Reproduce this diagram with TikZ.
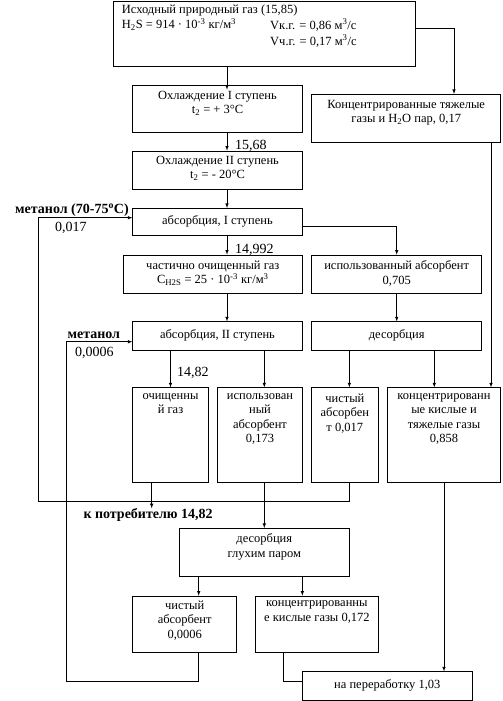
\documentclass[tikz,border=0pt]{standalone}
\usepackage{fontspec}
\setmainfont{Liberation Serif}
\usepackage{tikz}
\usetikzlibrary{fit}
\usetikzlibrary{positioning}

\begin{document}
\begin{tikzpicture}
[
	x								= 1pt,
	y								= -1pt,
	%
	blok/.style						=
	{
		draw,
		inner sep					= 0pt,
		line width					= 0.6pt
	},
	tekst/.style					=
	{
		inner sep					= 0pt,
		align						= center,
		font						= \fontsize{12.5}{14.5}\selectfont,
		execute at begin node		= \strut
	},
	metka/.style					=
	{
		inner sep					= 0pt,
		anchor						= base west,
		font						= \fontsize{14}{16}\selectfont
	},
	strelka/.style					= {-latex, line width = 0.6pt},
	liniya/.style					= {line width = 0.6pt},
]
	\useasboundingbox (0,0) rectangle (503,701);

	% boxes
	\node (ishod)	[blok, fit = {(113.3,1) (415.7,66)}] {};
	\node (ohl1)	[blok, fit = {(132.7,85.3) (302.3,132.3)}] {};
	\node (konc1)	[blok, fit = {(311.7,94.3) (500.7,142)}] {};
	\node (ohl2)	[blok, fit = {(132.7,151) (302.3,189)}] {};
	\node (abs1)	[blok, fit = {(132.7,208.3) (302.3,235.7)}] {};
	\node (chast)	[blok, fit = {(123.3,255) (302.3,293.3)}] {};
	\node (isp1)	[blok, fit = {(311.7,255) (481.7,293.3)}] {};
	\node (abs2)	[blok, fit = {(132.7,321.7) (302.3,350)}] {};
	\node (desorb1)	[blok, fit = {(311.7,321.7) (481.7,350)}] {};
	\node (ochgaz)	[blok, fit = {(132.7,387.7) (208.3,482.3)}] {};
	\node (isp2)	[blok, fit = {(217.7,387.7) (302.3,482.3)}] {};
	\node (chist1)	[blok, fit = {(311.7,387.7) (378,482.3)}] {};
	\node (konc2)	[blok, fit = {(387.3,387.7) (500.7,482.3)}] {};
	\node (desorb2)	[blok, fit = {(179.3,528.3) (349.3,576.7)}] {};
	\node (chist2)	[blok, fit = {(132.7,596) (236.7,652.3)}] {};
	\node (konc3)	[blok, fit = {(255.7,596) (378,652.3)}] {};
	\node (pererab)	[blok, fit = {(302.3,671.7) (472.3,700)}] {};

	% texts in boxes
	\node (ishod-t)	[tekst, align = left, below right = 4.3pt and 8.7pt of ishod.north west]
		{Исходный природный газ (15,85)\\H\textsubscript{2}S = 914 · 10\textsuperscript{-3} кг/м\textsuperscript{3}};
	\node (ishod-v)	[tekst, align = left, below right = 18pt and 157pt of ishod.north west]
		{Vк.г. = 0,86 м\textsuperscript{3}/с\\[1.5pt]Vч.г. = 0,17 м\textsuperscript{3}/с};
	\node (ohl1-t)		[tekst, below = 6pt of ohl1.north] {Охлаждение I ступень\\t\textsubscript{2} = + 3°C};
	\node (konc1-t)		[tekst, below = 6pt of konc1.north] {Концентрированные тяжелые\\газы и H\textsubscript{2}O пар, 0,17};
	\node (ohl2-t)		[tekst, below = 5pt of ohl2.north] {Охлаждение II ступень\\t\textsubscript{2} = - 20°C};
	\node (abs1-t)		[tekst] at (abs1.center) {абсорбция, I ступень};
	\node (chast-t)		[tekst, below = 6pt of chast.north] {частично очищенный газ\\C\textsubscript{H2S} = 25 · 10\textsuperscript{-3} кг/м\textsuperscript{3}};
	\node (isp1-t)		[tekst, below = 6pt of isp1.north] {использованный абсорбент\\0,705};
	\node (abs2-t)		[tekst] at (abs2.center) {абсорбция, II ступень};
	\node (desorb1-t)	[tekst] at (desorb1.center) {десорбция};
	\node (ochgaz-t)	[tekst, below = 6pt of ochgaz.north] {очищенны\\й газ};
	\node (isp2-t)		[tekst, below = 6pt of isp2.north] {использован\\ный\\абсорбент\\0,173};
	\node (chist1-t)	[tekst, below = 6pt of chist1.north] {чистый\\абсорбен\\т 0,017};
	\node (konc2-t)		[tekst, below = 6pt of konc2.north] {концентрированн\\ые кислые и\\тяжелые газы\\0,858};
	\node (desorb2-t)	[tekst, below = 5.7pt of desorb2.north] {десорбция\\глухим паром};
	\node (chist2-t)	[tekst, below = 5pt of chist2.north] {чистый\\абсорбент\\0,0006};
	\node (konc3-t)		[tekst, below = 5pt of konc3.north] {концентрированны\\е кислые газы 0,172};
	\node (pererab-t)	[tekst] at (pererab.center) {на переработку 1,03};

	% flow labels
	\node (metanol1)	[metka, font = \fontsize{14}{16}\bfseries] at (15,213.5) {метанол (70-75\textsuperscript{o}C)};
	\node (rashod1)		[metka] at (55,231) {0,017};
	\node (metanol2)	[metka, font = \fontsize{14}{16}\bfseries] at (67.3,338.3) {метанол};
	\node (rashod2)		[metka] at (75,356.5) {0,0006};
	\node (r1568)		[metka] at (235,149.5) {15,68};
	\node (r14992)		[metka] at (235,253.5) {14,992};
	\node (r1482)		[metka] at (177,376.5) {14,82};
	\node (potr)		[metka, font = \fontsize{14}{16}\bfseries] at (83.3,518.5) {к потребителю 14,82};

	\coordinate (povorot1) at (38.3,501);
	\coordinate (povorot2) at (66.7,681);

	% main line
	\draw [strelka] ([xshift=9.5pt]ohl1.north |- ishod.south) -- ([xshift=9.5pt, yshift=-4.7pt]ohl1.north);
	\draw [strelka] ([xshift=9.5pt]ohl1.south) -- ([xshift=9.5pt]ohl2.north);
	\draw [strelka] ([xshift=9.5pt]ohl2.south) -- ([xshift=9.5pt]abs1.north);
	\draw [strelka] ([xshift=9.5pt]abs1.south) -- ([xshift=9.5pt]abs1.south |- chast.north);
	\draw [strelka] ([xshift=9.5pt]abs2.north |- chast.south) -- ([xshift=9.5pt]abs2.north);
	\draw [strelka] ([yshift=5.2pt]ishod.east) -| ([xshift=47.8pt]konc1.north);
	\draw [strelka] ([yshift=-4.7pt]abs1.east) -| (isp1.north);
	\draw [strelka] (isp1.south) -- (desorb1.north);

	% lower part
	\draw [strelka] (ochgaz.north |- abs2.south) -- (ochgaz.north);
	\draw [strelka] ([xshift=4.3pt]isp2.north |- abs2.south) -- ([xshift=4.3pt]isp2.north);
	\draw [strelka] ([xshift=4.5pt]chist1.north |- desorb1.south) -- ([xshift=4.5pt]chist1.north);
	\draw [strelka] ([xshift=-9.7pt]konc2.north |- desorb1.south) -- ([xshift=-9.7pt]konc2.north);
	\draw [strelka] ([xshift=47pt]konc2.north |- konc1.south) -- ([xshift=47pt]konc2.north);
	\draw [strelka] ([xshift=-18.8pt]ochgaz.south) -- ([xshift=-18.8pt]ochgaz.south |- potr.north);
	\draw [strelka] ([xshift=4.3pt]isp2.south) -- (desorb2.north);
	\draw [strelka] ([xshift=14pt]chist2.north |- desorb2.south) -- ([xshift=14pt]chist2.north);
	\draw [strelka] ([xshift=-14.5pt]konc3.north |- desorb2.south) -- ([xshift=-14.5pt]konc3.north);
	\draw [strelka] (konc2.south) -- (konc2.south |- pererab.north);
	\draw [liniya] ([xshift=-33.2pt]konc3.south) |- ([yshift=4.9pt]pererab.west);

	% methanol returns
	\draw [strelka] ([xshift=4.5pt]chist1.south) |- (povorot1) |- ([yshift=4.3pt]abs1.west);
	\draw [strelka] ([xshift=14pt]chist2.south) |- (povorot2) |- ([yshift=-5.9pt]abs2.west);

\end{tikzpicture}
\end{document}
